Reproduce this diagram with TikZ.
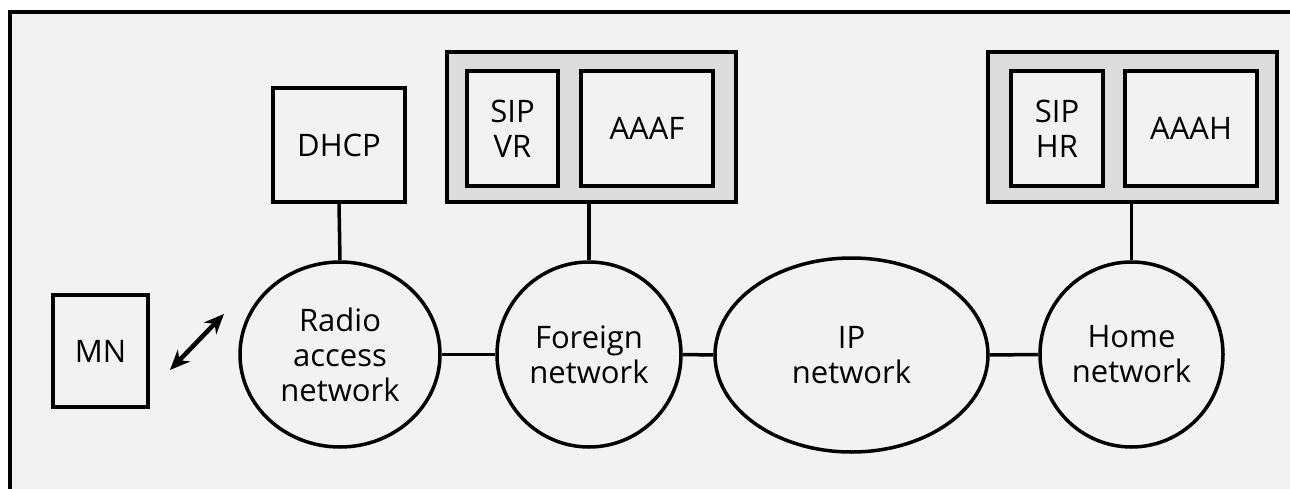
\documentclass[tikz,border=0pt]{standalone}
\usepackage{fontspec}
\setmainfont{Open Sans}
\usetikzlibrary{shapes.geometric,arrows.meta}
\definecolor{paper}{HTML}{F2F2F2}
\definecolor{groupfill}{HTML}{DCDCDC}
\tikzset{
  box/.style={draw, line width=3.5pt, fill=paper, inner sep=0pt, align=center,
    font=\fontsize{31}{35}\selectfont},
  group/.style={draw, line width=3.5pt, fill=groupfill, inner sep=0pt},
  net/.style={ellipse, draw, line width=3.5pt, fill=paper, inner sep=0pt, align=center,
    font=\fontsize{31}{35}\selectfont},
  link/.style={line width=3.5pt},
}
\begin{document}
\begin{tikzpicture}[x=1pt,y=-1pt]
\useasboundingbox (0,0) rectangle (1290,489);
% frame and background
\fill[white] (0,0) rectangle (1290,489);
\fill[paper] (10,12) rectangle (1290,489);
\draw[line width=3.5pt] (10,489) -- (10,12) -- (1290,12);

% server groups
\node[group, minimum width=289pt, minimum height=150pt] (gf) at (591.5,127) {};
\node[box, minimum width=91pt, minimum height=115pt] (sipvr) at (512.5,128.5) {SIP\\VR};
\node[box, minimum width=132pt, minimum height=115pt] (aaaf) at (647,128.5) {AAAF};
\node[group, minimum width=289pt, minimum height=150pt] (gh) at (1132.5,127) {};
\node[box, minimum width=92pt, minimum height=115pt] (siphr) at (1057,128.5) {SIP\\HR};
\node[box, minimum width=132pt, minimum height=115pt] (aaah) at (1191,128.5) {AAAH};

% stand-alone boxes
\node[box, minimum width=95pt, minimum height=112pt] (mn) at (100.5,351) {MN};
\node[box, minimum width=132pt, minimum height=114pt] (dhcp) at (339,145) {DHCP};

% networks
\node[net, minimum width=200pt, minimum height=185pt] (ran) at (340,354.5) {Radio\\access\\network};
\node[net, minimum width=184pt, minimum height=185pt] (fn) at (589,354.5) {Foreign\\network};
\node[net, minimum width=273pt, minimum height=194pt] (ip) at (851.5,355) {IP\\network};
\node[net, minimum width=183pt, minimum height=185pt] (hn) at (1131.5,354.5) {Home\\network};

% connections
\draw[link] (dhcp.south) -- (ran.north);
\draw[link] (gf.south -| fn.north) -- (fn.north);
\draw[link] (gh.south -| hn.north) -- (hn.north);
\draw[link] (ran.east) -- (fn.west);
\draw[link] (fn.east) -- (ip.west);
\draw[link] (ip.east) -- (hn.west);

% radio link
\coordinate (ra) at (170,370);
\coordinate (rb) at (224,314);
\draw[line width=4.5pt, {Stealth[length=20pt,width=17pt]}-{Stealth[length=20pt,width=17pt]}] (ra) -- (rb);
\end{tikzpicture}
\end{document}
